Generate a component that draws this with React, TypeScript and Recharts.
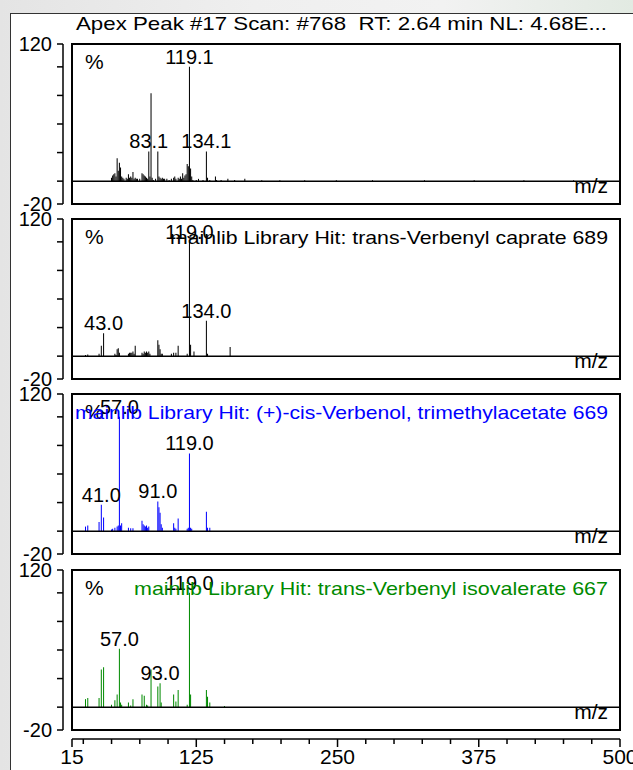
import React from "react";
import {
  Bar,
  ComposedChart,
  LabelList,
  ReferenceArea,
  ReferenceLine,
  XAxis,
  YAxis,
} from "recharts";

// m/z axis
const xMajorTicks = [15, 125, 250, 375, 500];
const xMinorTicks = [25, 50, 75, 100, 150, 175, 200, 225, 275, 300, 325, 350, 400, 425, 450, 475];
const yTicks = [-20, 0, 25, 50, 75, 100, 120];

const headerText = "Apex Peak #17 Scan: #768  RT: 2.64 min NL: 4.68E...";

// sample scan
const scanMz = [
  50, 51, 52, 53, 54, 55, 56, 57, 58, 59, 60, 61, 63, 64, 65, 66, 67, 68, 69, 70, 71, 72, 73, 75,
  77, 78, 79, 80, 81, 82, 83, 84, 85, 86, 87, 89, 91, 92, 93, 94, 95, 96, 97, 99, 101, 103, 105,
  106, 107, 109, 110, 111, 112, 113, 114, 115, 116, 117, 118, 119, 120, 121, 122, 125, 127, 131,
  134, 135, 137, 142, 143, 147, 153, 159, 168, 183, 199, 221, 249, 281, 327, 371, 415, 459,
];
const scanInt = [
  3, 5, 6, 7, 4, 20, 9, 16, 12, 4, 3, 2, 3, 2, 6, 3, 4, 3, 8, 2, 3, 2, 2, 2,
  7, 6, 5, 4, 3, 2, 26, 4, 77, 3, 1, 2, 26, 4, 3, 2, 3, 2, 2, 2, 1, 2, 3,
  4, 2, 3, 2, 4, 2, 7, 3, 5, 6, 15, 13, 100, 11, 4, 1, 1, 2, 1,
  26, 3, 1, 4, 1, 1, 2, 1, 2, 0.8, 0.8, 0.8, 0.8, 0.8, 0.8, 0.8, 0.8, 0.8,
];
const scanLabelMz = [83, 119, 134];
const scanLabelText = ["83.1", "119.1", "134.1"];

// library hit 1: trans-Verbenyl caprate
const caprateMz = [
  27, 29, 39, 41, 43, 53, 54, 55, 56, 57, 65, 66, 67, 68, 69, 70, 71, 77, 78, 79, 80, 81, 82, 83,
  84, 91, 92, 93, 94, 95, 103, 105, 107, 109, 117, 119, 120, 123, 134, 135, 155,
];
const caprateInt = [
  1, 1.5, 2, 9, 20, 2, 1, 6, 7, 3, 2, 3, 3, 3, 4, 2, 9, 3, 2, 4, 3, 4, 3, 4,
  2, 14, 10, 6, 2, 2, 2, 3, 3, 9, 2, 100, 10, 4, 31, 2, 8,
];
const caprateLabelMz = [43, 119, 134];
const caprateLabelText = ["43.0", "119.0", "134.0"];

// library hit 2: (+)-cis-Verbenol, trimethylacetate
const pivalateMz = [
  27, 29, 39, 41, 43, 50, 51, 53, 55, 56, 57, 58, 59, 65, 67, 69, 77, 78, 79, 80, 81, 82, 83,
  91, 92, 93, 94, 95, 105, 106, 107, 109, 117, 118, 119, 120, 121, 134, 135, 137,
];
const pivalateInt = [
  4, 5, 8, 23, 12, 1.5, 2, 3, 4, 5, 100, 5, 7, 3, 2.5, 2.5, 9, 6, 5, 4, 5, 3, 4,
  26, 21, 16, 6, 3, 7, 3, 2, 11, 2, 3, 68, 3, 2, 17, 3, 3,
];
const pivalateLabelMz = [41, 57, 91, 119];
const pivalateLabelText = ["41.0", "57.0", "91.0", "119.0"];

// library hit 3: trans-Verbenyl isovalerate
const isovalerateMz = [
  27, 29, 39, 41, 43, 50, 53, 55, 57, 58, 59, 65, 67, 69, 77, 79, 81, 82, 85, 91, 93, 94,
  105, 107, 109, 117, 119, 120, 134, 135, 137, 150,
];
const isovalerateInt = [
  7, 8, 8, 33, 35, 2, 6, 11, 51, 4, 2, 4, 1.5, 7, 11, 10, 2, 1.5, 33, 18, 21, 4,
  11, 5, 15, 2, 100, 11, 15, 9, 4, 1,
];
const isovalerateLabelMz = [57, 93, 119];
const isovalerateLabelText = ["57.0", "93.0", "119.0"];

const buildRows = (mz: number[], ints: number[], labelMz: number[], labelText: string[]) =>
  mz.map((m, i) => {
    const li = labelMz.indexOf(m);
    return { mz: m, int: ints[i], label: li >= 0 ? labelText[li] : undefined };
  });

const panels = [
  {
    top: 44,
    color: "#000000",
    title: "",
    titleWidth: 0,
    rows: buildRows(scanMz, scanInt, scanLabelMz, scanLabelText),
  },
  {
    top: 219,
    color: "#000000",
    title: "mainlib Library Hit: trans-Verbenyl caprate 689",
    titleWidth: 438,
    rows: buildRows(caprateMz, caprateInt, caprateLabelMz, caprateLabelText),
  },
  {
    top: 394,
    color: "#0000ff",
    title: "mainlib Library Hit: (+)-cis-Verbenol, trimethylacetate 669",
    titleWidth: 533,
    rows: buildRows(pivalateMz, pivalateInt, pivalateLabelMz, pivalateLabelText),
  },
  {
    top: 570,
    color: "#008a00",
    title: "mainlib Library Hit: trans-Verbenyl isovalerate 667",
    titleWidth: 474,
    rows: buildRows(isovalerateMz, isovalerateInt, isovalerateLabelMz, isovalerateLabelText),
  },
];

const FONT = '"Liberation Sans", Arial, sans-serif';
const W = 633;
const BOX_H = 160;

function Spectrum({ rows, color, top }: { rows: any[]; color: string; top: number }) {
  return (
    <div style={{ position: "absolute", left: 0, top: top - 10 }}>
      <ComposedChart
        width={W}
        height={BOX_H + 20}
        data={rows}
        margin={{ top: 10, right: 13, bottom: 10, left: 0 }}
      >
        <XAxis
          type="number"
          dataKey="mz"
          domain={[15, 500]}
          allowDataOverflow
          hide
          padding={{ left: 9, right: 0 }}
        />
        <YAxis
          type="number"
          domain={[-20, 120]}
          allowDataOverflow
          ticks={yTicks}
          interval={0}
          width={63}
          tickSize={6}
          tickMargin={5}
          tickFormatter={(v: number) => (v === 120 || v === -20 ? String(v) : "")}
          tick={{ fill: "#000", fontSize: 20 }}
          axisLine={{ stroke: "#000", strokeWidth: 1.5 }}
          tickLine={{ stroke: "#000", strokeWidth: 1.5 }}
        />
        <ReferenceArea
          x1={15}
          x2={500}
          y1={-20}
          y2={120}
          fill="none"
          stroke="#000"
          strokeWidth={2}
          ifOverflow="visible"
        />
        <ReferenceLine
          segment={[
            { x: 15, y: 0 },
            { x: 500, y: 0 },
          ]}
          stroke="#000"
          strokeWidth={1.5}
        />
        <Bar dataKey="int" fill={color} barSize={1.8} isAnimationActive={false}>
          <LabelList dataKey="label" position="top" offset={3} fill="#000" fontSize={20} />
        </Bar>
      </ComposedChart>
    </div>
  );
}

const allTicks = [...xMajorTicks, ...xMinorTicks].sort((a, b) => a - b);

function MzTick(props: any) {
  const { x, y, payload } = props;
  const major = xMajorTicks.includes(payload.value);
  return (
    <g>
      <line x1={x} x2={x} y1={y} y2={y + (major ? 8 : 5)} stroke="#000" strokeWidth={1.5} />
      {major && (
        <text x={x} y={y + 25} textAnchor="middle" fontSize={21} fill="#000">
          {payload.value}
        </text>
      )}
    </g>
  );
}

export default function App() {
  return (
    <div
      style={{
        position: "absolute",
        left: 0,
        top: 0,
        width: W,
        height: 770,
        overflow: "hidden",
        fontFamily: FONT,
        background: "linear-gradient(90deg, #e4e4e4 0%, #efefef 40%, #f2f2f2 70%, #e2eae2 100%)",
      }}
    >
      <div
        style={{
          position: "absolute",
          left: 10,
          top: 13,
          right: -4,
          bottom: -4,
          background: "#fff",
          borderLeft: "1.5px solid #333",
          borderTop: "1.5px solid #333",
        }}
      />
      {panels.map((p, i) => (
        <Spectrum key={i} rows={p.rows} color={p.color} top={p.top} />
      ))}
      <div style={{ position: "absolute", left: 0, top: 729 }}>
        <ComposedChart
          width={W}
          height={45}
          data={panels[3].rows}
          margin={{ top: 0, right: 13, bottom: 0, left: 72 }}
        >
          <YAxis hide domain={[-20, 120]} />
          <XAxis
            type="number"
            dataKey="mz"
            domain={[15, 500]}
            allowDataOverflow
            ticks={allTicks}
            interval={0}
            height={35}
            tickSize={0}
            tickMargin={0}
            tickLine={false}
            axisLine={{ stroke: "#000", strokeWidth: 1.5 }}
            tick={<MzTick />}
          />
        </ComposedChart>
      </div>
      <svg
        width={W}
        height={770}
        style={{ position: "absolute", left: 0, top: 0, pointerEvents: "none" }}
      >
        <text
          x={76}
          y={30}
          fontSize={19}
          fill="#000"
          textLength={531}
          lengthAdjust="spacingAndGlyphs"
          style={{ whiteSpace: "pre" }}
        >
          {headerText}
        </text>
        {panels.map((p, i) => (
          <g key={i}>
            <text x={85} y={p.top + 25} fontSize={21} fill="#000">
              %
            </text>
            {p.title && (
              <text
                x={608 - p.titleWidth}
                y={p.top + 25}
                fontSize={19}
                fill={p.color}
                textLength={p.titleWidth}
                lengthAdjust="spacingAndGlyphs"
              >
                {p.title}
              </text>
            )}
            <text x={608} y={p.top + 149} fontSize={21} fill="#000" textAnchor="end">
              m/z
            </text>
          </g>
        ))}
      </svg>
    </div>
  );
}
